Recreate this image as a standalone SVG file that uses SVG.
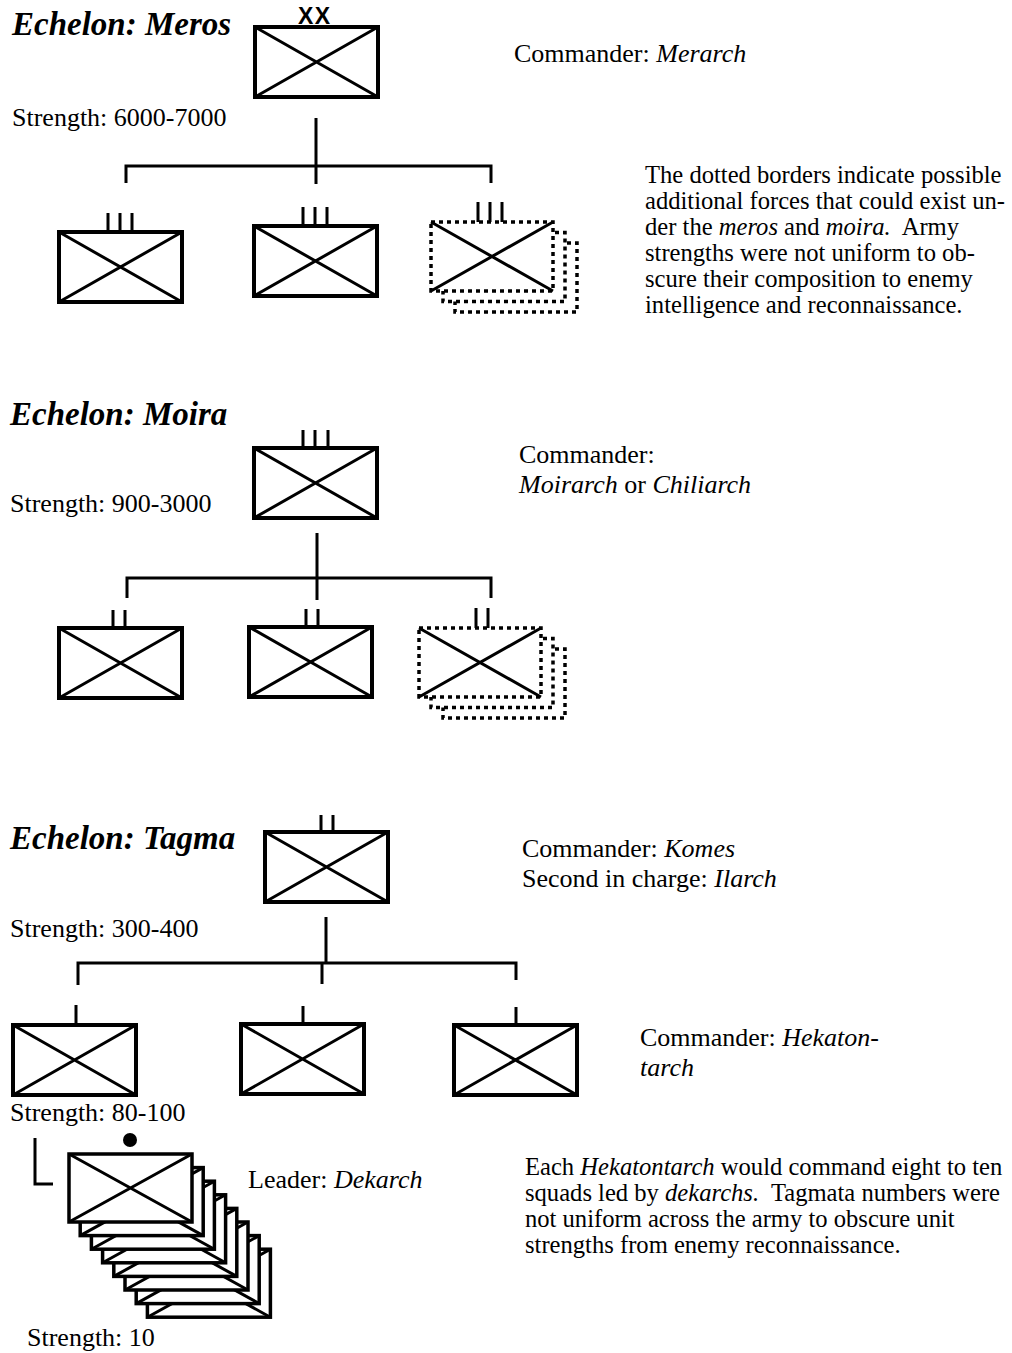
<svg xmlns="http://www.w3.org/2000/svg" xmlns:xlink="http://www.w3.org/1999/xlink" width="1012" height="1353" viewBox="0 0 1012 1353">
<style>
text{font-family:"Liberation Serif","Times New Roman",serif;fill:#000}
.h{font-size:33px;font-weight:bold;font-style:italic}
.l{font-size:26px}
.p{font-size:24.6px}
.i{font-style:italic}
.box{fill:#fff;stroke:#000;stroke-width:4}
.sbox{fill:#fff;stroke:#000;stroke-width:3.5}
.x{stroke:#000;stroke-width:3;fill:none}
.dbox{fill:#fff;stroke:#000;stroke-width:3.5;stroke-dasharray:4 4}
.con{stroke:#000;stroke-width:3;fill:none}
.tick{stroke:#000;stroke-width:3;fill:none}
.xx{font-family:"Liberation Sans",Arial,sans-serif;font-size:23px;font-weight:bold}
</style>
<defs>
<g id="unit"><rect class="box" x="0" y="0" width="123" height="70"/><path class="x" d="M0 0L123 70M123 0L0 70"/></g>
<g id="squad"><rect class="sbox" x="0" y="0" width="123" height="68"/><path class="x" d="M0 0L123 68M123 0L0 68"/></g>
</defs>
<rect width="1012" height="1353" fill="#fff"/>

<g id="connectors">
<path class="con" d="M316 118V184M126 183V166H491V183"/>
<path class="con" d="M317 533V600M127 598V578H491V598"/>
<path class="con" d="M326 917V963M78 985V963H516V980M322 963V984"/>
</g>

<g id="meros">
<use href="#unit" x="255" y="27"/>
<text class="xx" x="298" y="24" textLength="32">XX</text>
<text class="h" x="12" y="35">Echelon: Meros</text>
<text class="l" x="12" y="126">Strength: 6000-7000</text>
<text class="l" x="514" y="62">Commander: <tspan class="i">Merarch</tspan></text>
</g>

<g id="moira-1">
<use href="#unit" x="59" y="232"/>
<path class="tick" d="M108 213V232M120 213V232M132 213V232"/>
</g>
<g id="moira-2">
<use href="#unit" x="254" y="226"/>
<path class="tick" d="M303 207V226M315 207V226M327 207V226"/>
</g>
<g id="moira-3-dotted">
<rect class="dbox" x="455" y="243" width="122" height="69"/>
<rect class="dbox" x="443" y="232.5" width="122" height="69"/>
<rect class="dbox" x="431" y="222" width="122" height="69"/>
<path class="x" d="M431 222L553 291M553 222L431 291"/>
<path class="tick" d="M478 202V222M490 202V222M502 202V222"/>
</g>

<g id="note-1">
<text class="p" x="645" y="183">The dotted borders indicate possible</text>
<text class="p" x="645" y="209">additional forces that could exist un-</text>
<text class="p" x="645" y="235">der the <tspan class="i">meros</tspan> and <tspan class="i">moira.</tspan>&#160; Army</text>
<text class="p" x="645" y="261">strengths were not uniform to ob-</text>
<text class="p" x="645" y="287">scure their composition to enemy</text>
<text class="p" x="645" y="313">intelligence and reconnaissance.</text>
</g>

<g id="moira">
<use href="#unit" x="254" y="448"/>
<path class="tick" d="M303 430V448M315 430V448M328 430V448"/>
<text class="h" x="10" y="425">Echelon: Moira</text>
<text class="l" x="10" y="512">Strength: 900-3000</text>
<text class="l" x="519" y="463">Commander:</text>
<text class="l" x="519" y="493"><tspan class="i">Moirarch</tspan> or <tspan class="i">Chiliarch</tspan></text>
</g>

<g id="tagma-1">
<use href="#unit" x="59" y="628"/>
<path class="tick" d="M113 610V628M125 610V628"/>
</g>
<g id="tagma-2">
<use href="#unit" x="249" y="627"/>
<path class="tick" d="M306 609V627M318 609V627"/>
</g>
<g id="tagma-3-dotted">
<rect class="dbox" x="443" y="649" width="122" height="69"/>
<rect class="dbox" x="431" y="638.5" width="122" height="69"/>
<rect class="dbox" x="419" y="628" width="122" height="69"/>
<path class="x" d="M419 628L541 697M541 628L419 697"/>
<path class="tick" d="M476 608V628M488 608V628"/>
</g>

<g id="tagma">
<use href="#unit" x="265" y="832"/>
<path class="tick" d="M321 815V832M333 815V832"/>
<text class="h" x="10" y="849">Echelon: Tagma</text>
<text class="l" x="10" y="937">Strength: 300-400</text>
<text class="l" x="522" y="857">Commander: <tspan class="i">Komes</tspan></text>
<text class="l" x="522" y="887">Second in charge: <tspan class="i">Ilarch</tspan></text>
</g>

<g id="hekatontarchy-1">
<use href="#unit" x="13" y="1025"/>
<path class="tick" d="M76 1005V1025"/>
<text class="l" x="10" y="1121">Strength: 80-100</text>
</g>
<g id="hekatontarchy-2">
<use href="#unit" x="241" y="1024"/>
<path class="tick" d="M303 1006V1024"/>
</g>
<g id="hekatontarchy-3">
<use href="#unit" x="454" y="1025"/>
<path class="tick" d="M516 1007V1025"/>
<text class="l" x="640" y="1046">Commander: <tspan class="i">Hekaton-</tspan></text>
<text class="l" x="640" y="1076" font-style="italic">tarch</text>
</g>

<g id="squads">
<use href="#squad" x="147.4" y="1249.2"/>
<use href="#squad" x="136.2" y="1235.6"/>
<use href="#squad" x="125" y="1222"/>
<use href="#squad" x="113.8" y="1208.4"/>
<use href="#squad" x="102.6" y="1194.8"/>
<use href="#squad" x="91.4" y="1181.2"/>
<use href="#squad" x="80.2" y="1167.6"/>
<use href="#squad" x="69" y="1154"/>
<circle cx="130" cy="1140" r="7" fill="#000"/>
<path class="con" d="M35 1138V1184H53"/>
<text class="l" x="248" y="1188">Leader: <tspan class="i">Dekarch</tspan></text>
<text class="l" x="27" y="1346">Strength: 10</text>
</g>

<g id="note-2">
<text class="p" x="525" y="1175">Each <tspan class="i">Hekatontarch</tspan> would command eight to ten</text>
<text class="p" x="525" y="1201">squads led by <tspan class="i">dekarchs.</tspan>&#160; Tagmata numbers were</text>
<text class="p" x="525" y="1227">not uniform across the army to obscure unit</text>
<text class="p" x="525" y="1253">strengths from enemy reconnaissance.</text>
</g>
</svg>
